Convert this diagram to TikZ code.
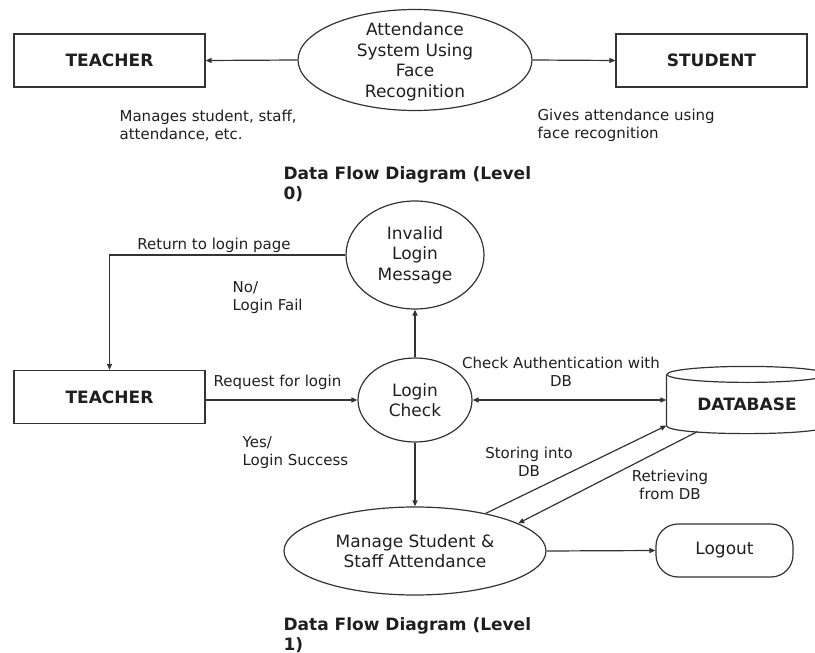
\documentclass[tikz,border=0pt]{standalone}
\usepackage{fontspec}
\setmainfont{DejaVu Sans}
\usetikzlibrary{arrows.meta,shapes.geometric}
\begin{document}
\begin{tikzpicture}[x=1pt,y=-1pt,line width=1.2pt,
  every node/.style={text=black!88},
  entity/.style={draw=black!80, rectangle, minimum width=191pt, minimum height=53pt, inner sep=0pt,
    font=\fontsize{17}{20}\selectfont\bfseries},
  proc/.style={draw=black!80, ellipse, inner sep=0pt},
  ptext/.style={align=center, inner sep=0pt, font=\fontsize{17}{20.5}\selectfont},
  lbl/.style={inner sep=0pt, font=\fontsize{15}{18}\selectfont},
  dfdtitle/.style={inner sep=0pt, anchor=west, align=left, font=\fontsize{17}{20}\selectfont\bfseries},
  flowarrow/.style={draw=black!80, -{Triangle[length=6pt,width=5pt]}},
  botharrow/.style={draw=black!80, {Triangle[length=6pt,width=5pt]}-{Triangle[length=6pt,width=5pt]}}]
\useasboundingbox (0,0) rectangle (815,653);

% ---------- Level 0 ----------
\node[entity] (t0) at (109.5,60.5) {TEACHER};
\node[entity] (s0) at (711.5,60.5) {STUDENT};
\node[proc, minimum width=234pt, minimum height=101pt] (sys) at (415,60) {};
\node[ptext] (systxt) at ([yshift=-2pt]sys.center) {Attendance\\System Using\\Face\\Recognition};
\draw[flowarrow] (sys.west) -- (t0.east);
\draw[flowarrow] (sys.east) -- (s0.west);
\node[lbl, anchor=west, align=left] (l0a) at (119,126) {Manages student, staff,\\attendance, etc.};
\node[lbl, anchor=west, align=left] (l0b) at (537,125) {Gives attendance using\\face recognition};
\node[dfdtitle] (ttl0) at (283,184) {Data Flow Diagram (Level\\0)};

% ---------- Level 1 ----------
\node[entity] (t1) at (109.5,397) {TEACHER};
\node[proc, minimum width=138pt, minimum height=108pt] (inv) at (415,255) {};
\node[ptext] (invtxt) at (inv) {Invalid\\Login\\Message};
\node[proc, minimum width=114pt, minimum height=84pt] (lc) at (415,400) {};
\node[ptext] (lctxt) at (lc) {Login\\Check};
\node[proc, minimum width=262pt, minimum height=88pt] (mg) at (415,551) {};
\node[ptext] (mgtxt) at (mg) {Manage Student \&\\Staff Attendance};
\node[draw=black!80, rectangle, rounded corners=22pt, minimum width=137pt, minimum height=53pt,
  inner sep=0pt, font=\fontsize{17}{20}\selectfont] (lo) at (724.5,550.5) {Logout};

% database store (open cylinder, cut by the right margin)
\node[minimum width=160pt, minimum height=50pt, inner sep=0pt] (db) at (747,400) {};
\draw[draw=black!80, fill=white] (db.north west) -- (db.south west)
  .. controls +(0,10.7) and +(0,10.7) .. (db.south east) -- (db.north east);
\draw[draw=black!80] (db.north) ellipse [x radius=80, y radius=8];
\node[font=\fontsize{17}{20}\selectfont\bfseries, inner sep=0pt] (dbtxt) at ([yshift=-4pt]db.center) {DATABASE};
\coordinate (dbr) at ([xshift=31pt,yshift=-6pt]db.south west);

% flows
\draw[flowarrow] (inv.west) -| (t1.north);
\draw[flowarrow] (lc.north) -- (inv.south);
\draw[flowarrow] (lc.west -| t1.east) -- (lc.west);
\draw[botharrow] (lc.east) -- (db.west);
\draw[flowarrow] (lc.south) -- (mg.north);
\draw[flowarrow] (mg.28) -- (db.south west);
\draw[flowarrow] (dbr) -- (mg.15);
\draw[flowarrow] (mg.east) -- (lo.west);

% flow labels
\node[lbl] (lret) at (214,245) {Return to login page};
\node[lbl, anchor=west, align=left] (lno) at (232,298) {No/\\Login Fail};
\node[lbl] (lreq) at (277.5,382) {Request for login};
\node[lbl, anchor=west, align=left] (lyes) at (242,453) {Yes/\\Login Success};
\node[lbl, align=center] (lauth) at (561,371.5) {Check Authentication with\\DB};
\node[lbl, align=center] (lstore) at (529,462) {Storing into\\DB};
\node[lbl, align=center] (lretr) at (670,485) {Retrieving\\from DB};
\node[dfdtitle] (ttl1) at (283,635) {Data Flow Diagram (Level\\1)};
\end{tikzpicture}
\end{document}
